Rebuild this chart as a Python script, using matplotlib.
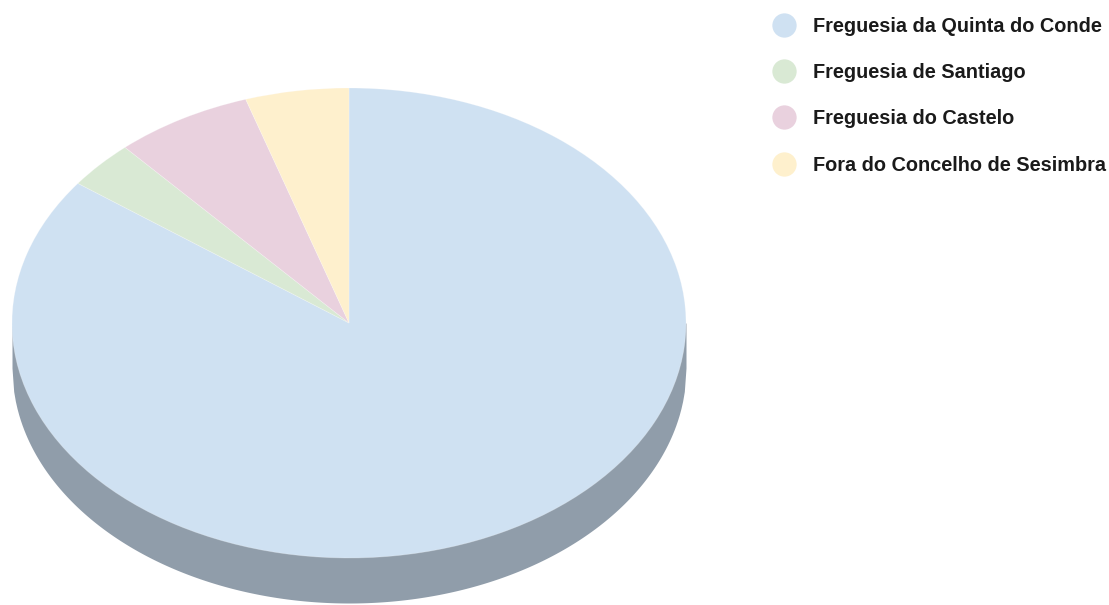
import matplotlib.pyplot as plt
import numpy as np
from matplotlib.lines import Line2D

# Respondents by parish of residence
labels = [
    "Freguesia da Quinta do Conde",
    "Freguesia de Santiago",
    "Freguesia do Castelo",
    "Fora do Concelho de Sesimbra",
]
counts = [103, 4, 8, 6]
colors = ["#cfe1f2", "#d9e9d4", "#e9d1de", "#fef0cd"]
side_color = "#909daa"

W, H = 1109, 605
DEPTH = 45 / 235  # thickness of the disc, in pie radius units

fig = plt.figure(figsize=(W / 100, H / 100), dpi=100)
plt.rcParams["font.family"] = ["Liberation Sans", "DejaVu Sans"]

# pie axes: flattened so the disc looks tilted
left, right, top, bottom = 12, 686, 88, 603
ax = fig.add_axes([left / W, 1 - bottom / H, (right - left) / W, (bottom - top) / H])

# side wall of the disc
xs = np.linspace(-1, 1, 400)
ax.fill_between(xs, 0, -np.sqrt(1 - xs ** 2) - DEPTH, color=side_color, linewidth=0)

ax.pie(
    counts,
    colors=colors,
    startangle=90,
    counterclock=False,
    radius=1,
    wedgeprops=dict(linewidth=0.6, edgecolor="#ffffff40"),
)
ax.set_aspect("auto")
ax.set_xlim(-1, 1)
ax.set_ylim(-1 - DEPTH, 1)
ax.axis("off")

handles = [
    Line2D([], [], marker="o", linestyle="none", markersize=17.5,
           markerfacecolor=c, markeredgecolor="none")
    for c in colors
]
fig.legend(
    handles,
    labels,
    loc="upper left",
    bbox_to_anchor=(774 / W, 1 - 17 / H),
    frameon=False,
    prop=dict(size=14.3, weight="bold"),
    labelcolor="#1a1a1a",
    handlelength=1.0,
    handletextpad=0.97,
    labelspacing=1.37,
    borderpad=0,
    borderaxespad=0,
)

fig.savefig("out.png", dpi=100)
